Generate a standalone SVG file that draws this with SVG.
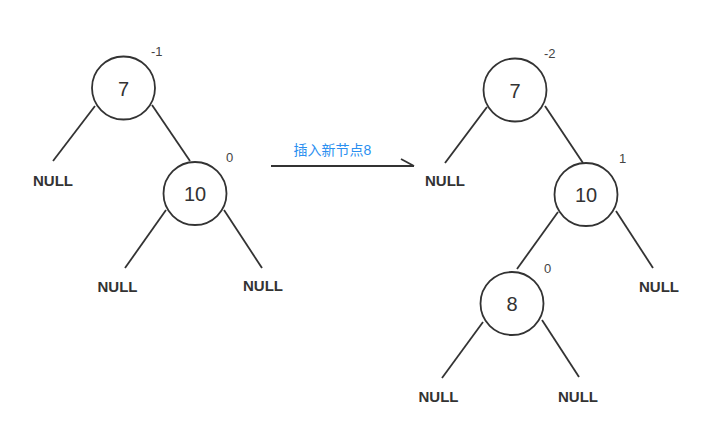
<svg xmlns="http://www.w3.org/2000/svg" width="702" height="440" viewBox="0 0 702 440">
<style>
.n circle{fill:#fff;stroke:#333;stroke-width:1.8}
.v{font-family:"Liberation Sans",Arial,sans-serif;font-size:20px;fill:#333;text-anchor:middle}
.b{font-family:"Liberation Sans",Arial,sans-serif;font-size:13px;fill:#444}
.nl{font-family:"Liberation Sans",Arial,sans-serif;font-size:15px;font-weight:bold;fill:#333;text-anchor:middle}
.e line,.e path{stroke:#333;stroke-width:1.8;fill:none}
.lbl{font-family:"Liberation Sans","Noto Sans CJK SC",sans-serif;font-size:14px;fill:#2b8ff0;text-anchor:middle}
</style>
<rect width="702" height="440" fill="#fff"/>
<g id="connectors" class="e">
<line x1="95" y1="106" x2="53" y2="161"/>
<line x1="152" y1="105" x2="190" y2="161"/>
<line x1="166" y1="210" x2="125" y2="268"/>
<line x1="224" y1="210" x2="262" y2="268"/>
<line x1="271" y1="166" x2="414" y2="166"/>
<path d="M401 159 L414 166"/>
<line x1="487" y1="107" x2="445" y2="163"/>
<line x1="545" y1="106" x2="583" y2="163"/>
<line x1="558" y1="212" x2="517" y2="269"/>
<line x1="616" y1="211" x2="653" y2="268"/>
<line x1="483" y1="322" x2="442" y2="378"/>
<line x1="542" y1="320" x2="579" y2="377"/>
</g>
<text class="lbl" x="332.5" y="155">插入新节点8</text>
<g id="L7" class="n"><circle cx="123.5" cy="88" r="31.5"/><text class="v" x="123.5" y="95.5">7</text><text class="b" x="151" y="56">-1</text></g>
<g id="L10" class="n"><circle cx="195" cy="193.5" r="31.5"/><text class="v" x="195" y="201">10</text><text class="b" x="226" y="162">0</text></g>
<g id="LN1"><text class="nl" x="53" y="186">NULL</text></g>
<g id="LN2"><text class="nl" x="117.5" y="292">NULL</text></g>
<g id="LN3"><text class="nl" x="263" y="291">NULL</text></g>
<g id="R7" class="n"><circle cx="515" cy="90" r="31.5"/><text class="v" x="515" y="97.5">7</text><text class="b" x="544" y="58">-2</text></g>
<g id="R10" class="n"><circle cx="586" cy="194.5" r="31.5"/><text class="v" x="586" y="202">10</text><text class="b" x="619" y="163">1</text></g>
<g id="R8" class="n"><circle cx="512" cy="303.5" r="31.5"/><text class="v" x="512" y="311">8</text><text class="b" x="544" y="273">0</text></g>
<g id="RN1"><text class="nl" x="445" y="186">NULL</text></g>
<g id="RN2"><text class="nl" x="659" y="292">NULL</text></g>
<g id="RN3"><text class="nl" x="438.5" y="402">NULL</text></g>
<g id="RN4"><text class="nl" x="578" y="402">NULL</text></g>
</svg>
